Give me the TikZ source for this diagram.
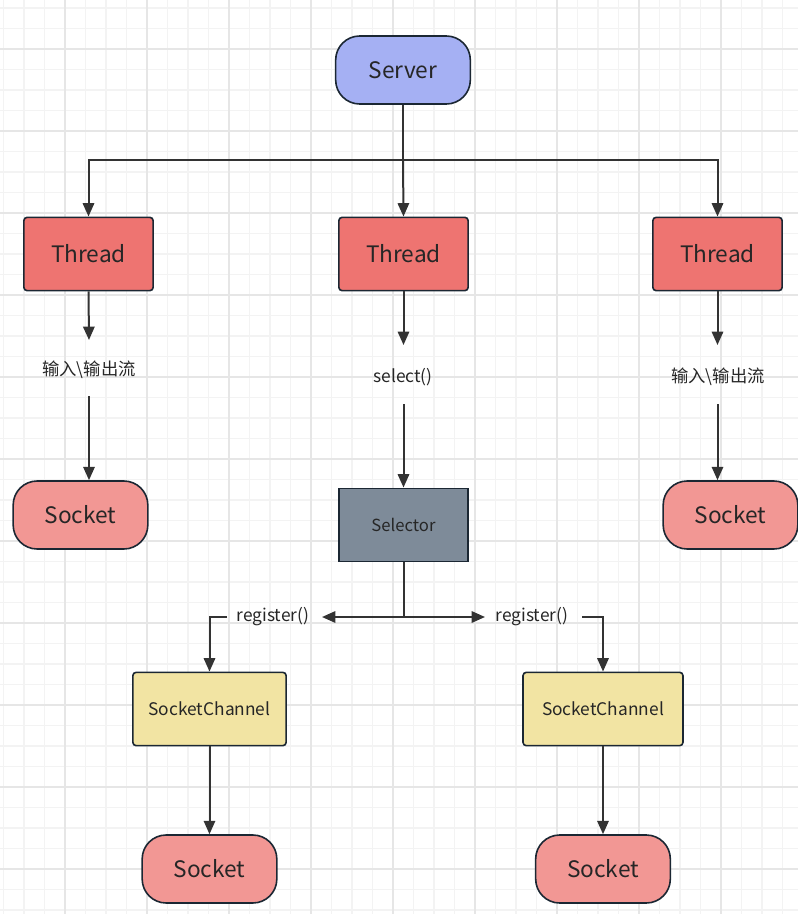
\documentclass[tikz,border=0pt]{standalone}
\usepackage{fontspec}
\setmainfont{Noto Sans CJK SC}
\usetikzlibrary{arrows.meta}
\definecolor{serverfill}{HTML}{A5B0F3}
\definecolor{threadfill}{HTML}{EE7471}
\definecolor{socketfill}{HTML}{F29794}
\definecolor{selfill}{HTML}{7E8B99}
\definecolor{chanfill}{HTML}{F2E4A3}
\definecolor{edge}{HTML}{1B2733}
\definecolor{arrowc}{HTML}{333333}
\definecolor{gridminor}{HTML}{F3F3F3}
\definecolor{gridmajor}{HTML}{E6E6E6}
\tikzset{
  base/.style={draw=edge, line width=1.2pt, text=black!85, inner sep=0pt, align=center},
  pill/.style={base, minimum width=101pt, minimum height=51pt, rounded corners=18pt, font=\fontsize{17}{19}\selectfont},
  threadbox/.style={base, fill=threadfill, minimum width=97pt, minimum height=55pt, rounded corners=2.5pt, font=\fontsize{17}{19}\selectfont},
  selbox/.style={base, fill=selfill, minimum width=97pt, minimum height=55pt, font=\fontsize{12.5}{14}\selectfont},
  chanbox/.style={base, fill=chanfill, minimum height=55pt, rounded corners=2.5pt, font=\fontsize{13}{15}\selectfont},
  lbl/.style={inner sep=1pt, text=black!85, font=\fontsize{13}{15}\selectfont},
  arr/.style={draw=arrowc, line width=1.5pt, -{Triangle[length=10pt,width=8.5pt]}},
  ln/.style={draw=arrowc, line width=1.5pt},
}
\begin{document}
\begin{tikzpicture}[x=0.75pt, y=-0.75pt]
\useasboundingbox (0,0) rectangle (798,914);
% grid
\foreach \i in {0,...,39} {
  \draw[gridminor, line width=0.9pt] ({3.5+20.5*\i},0) -- ({3.5+20.5*\i},914);
}
\foreach \i in {0,...,44} {
  \draw[gridminor, line width=0.9pt] (0,{8+20.5*\i}) -- (798,{8+20.5*\i});
}
\foreach \i in {0,...,9} {
  \draw[gridmajor, line width=1.1pt] ({65+82*\i},0) -- ({65+82*\i},914);
}
\foreach \i in {0,...,10} {
  \draw[gridmajor, line width=1.1pt] (0,{49+82*\i}) -- (798,{49+82*\i});
}

% nodes
\node[pill, fill=serverfill] (server) at (403,70) {Server};
\node[threadbox] (t1) at (88.5,254) {Thread};
\node[threadbox] (t2) at (403.5,254) {Thread};
\node[threadbox] (t3) at (717.5,254) {Thread};

\node[lbl] (l1) at (89,370) {输入\textbackslash 输出流};
\node[lbl] (l2) at (403,377) {select()};
\node[lbl] (l3) at (718,377) {输入\textbackslash 输出流};

\node[pill, fill=socketfill] (s1) at (80.5,515) {Socket};
\node[selbox] (sel) at (403.5,525) {Selector};
\node[pill, fill=socketfill] (s3) at (730.5,515) {Socket};

\node[lbl] (r1) at (273,617) {register()};
\node[lbl] (r2) at (532,617) {register()};

\node[chanbox, minimum width=115pt] (c1) at (209.5,709) {SocketChannel};
\node[chanbox, minimum width=120pt] (c2) at (603,709) {SocketChannel};

\node[pill, fill=socketfill] (s4) at (209.5,869) {Socket};
\node[pill, fill=socketfill] (s5) at (603,869) {Socket};

% helper coordinates
\coordinate (hub) at (403,160);
\coordinate (selhub) at (403.5,617);
\coordinate (a1end) at (89,340);
\coordinate (a2end) at (403.5,345);
\coordinate (a3end) at (717.5,345);
\coordinate (b1start) at (89,396);
\coordinate (b2start) at (403.5,404);
\coordinate (b3start) at (717.5,404);
\coordinate (rl) at (322,617);
\coordinate (rr) at (485,617);
\coordinate (rlstart) at (227,617);
\coordinate (rrstart) at (582,617);

% connectors
\draw[ln] (server.south) -- (hub);
\draw[arr] (hub) -| (t1.north);
\draw[arr] (hub) -- (t2.north);
\draw[arr] (hub) -| (t3.north);

\draw[arr] (t1.south) -- (a1end);
\draw[arr] (t2.south) -- (a2end);
\draw[arr] (t3.south) -- (a3end);
\draw[arr] (b1start) -- (b1start |- s1.north);
\draw[arr] (b2start) -- (sel.north);
\draw[arr] (b3start) -- (b3start |- s3.north);

\draw[ln] (sel.south) -- (selhub);
\draw[arr] (selhub) -- (rl);
\draw[arr] (selhub) -- (rr);
\draw[arr] (rlstart) -| (c1.north);
\draw[arr] (rrstart) -| (c2.north);

\draw[arr] (c1.south) -- (s4.north);
\draw[arr] (c2.south) -- (s5.north);
\end{tikzpicture}
\end{document}
